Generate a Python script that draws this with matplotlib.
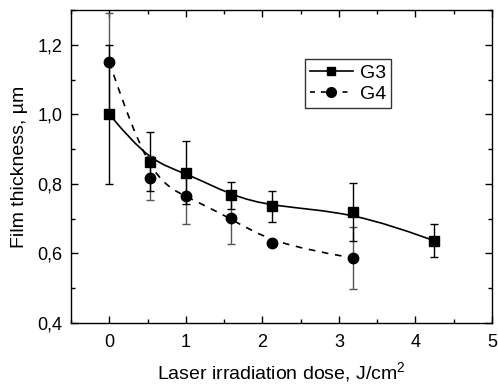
#!/usr/bin/env python3

import matplotlib

matplotlib.use('Agg')
import matplotlib.pyplot as plt
from matplotlib.path import Path
from matplotlib.patches import PathPatch
from matplotlib.ticker import FuncFormatter, MultipleLocator
from matplotlib.lines import Line2D


# dose, J/cm^2
G3_DOSE = [0.0, 0.53, 1.0, 1.59, 2.12, 3.18, 4.24]
G3_THICK = [1.0, 0.864, 0.832, 0.767, 0.735, 0.719, 0.637]
G3_ERR = [0.2, 0.085, 0.09, 0.038, 0.044, 0.083, 0.048]

G4_DOSE = [0.0, 0.53, 1.0, 1.59, 2.12, 3.18]
G4_THICK = [1.15, 0.816, 0.764, 0.701, 0.630, 0.587]
G4_ERR = [0.14, 0.063, 0.08, 0.075, 0.0, 0.09]

X_LABEL = 'Laser irradiation dose, J/cm$^2$'
Y_LABEL = 'Film thickness, \u00b5m'

plt.rcParams['font.family'] = ['Liberation Sans', 'DejaVu Sans']
plt.rcParams['mathtext.fontset'] = 'custom'
plt.rcParams['mathtext.rm'] = 'Liberation Sans'


def bspline_path(xs, ys):
    # cubic B-spline with the points as control points (ends clamped),
    # converted to bezier segments
    pts = list(zip(xs, ys))
    pts = [pts[0]] * 2 + pts + [pts[-1]] * 2
    verts = [pts[0]]
    codes = [Path.MOVETO]
    for i in range(len(pts) - 3):
        p0, p1, p2, p3 = pts[i:i + 4]
        c1 = ((2 * p1[0] + p2[0]) / 3, (2 * p1[1] + p2[1]) / 3)
        c2 = ((p1[0] + 2 * p2[0]) / 3, (p1[1] + 2 * p2[1]) / 3)
        end = ((p1[0] + 4 * p2[0] + p3[0]) / 6, (p1[1] + 4 * p2[1] + p3[1]) / 6)
        verts += [c1, c2, end]
        codes += [Path.CURVE4] * 3
    return Path(verts, codes)


fig = plt.figure(figsize=(4.98, 3.84), dpi=100)
ax = fig.add_axes([71 / 498, 61 / 384, 421 / 498, 313 / 384])

ax.add_patch(PathPatch(bspline_path(G3_DOSE, G3_THICK), fill=False,
                       edgecolor='black', linewidth=1.2))
ax.add_patch(PathPatch(bspline_path(G4_DOSE, G4_THICK), fill=False,
                       edgecolor='black', linewidth=1.2,
                       linestyle=(0, (4, 4))))

ax.errorbar(G4_DOSE, G4_THICK, yerr=G4_ERR, fmt='none', ecolor='#555555',
            elinewidth=1.0, capsize=3, capthick=1.0)
ax.errorbar(G3_DOSE, G3_THICK, yerr=G3_ERR, fmt='none', ecolor='black',
            elinewidth=1.0, capsize=3, capthick=1.0)
ax.plot(G4_DOSE, G4_THICK, 'o', color='black', markersize=7.5, zorder=4)
ax.plot(G3_DOSE, G3_THICK, 's', color='black', markersize=6.5, zorder=4)

ax.set_xlim(-0.5, 5)
ax.set_ylim(0.4, 1.3)
ax.xaxis.set_major_locator(MultipleLocator(1))
ax.xaxis.set_minor_locator(MultipleLocator(0.5))
ax.yaxis.set_major_locator(MultipleLocator(0.2))
ax.yaxis.set_minor_locator(MultipleLocator(0.1))
ax.xaxis.set_major_formatter(FuncFormatter(lambda v, p: f'{v:.0f}'))
ax.yaxis.set_major_formatter(
    FuncFormatter(lambda v, p: f'{v:.1f}'.replace('.', ',')))
ax.tick_params(which='both', direction='in', top=True, right=True,
               labelsize=13, width=1.0)
ax.tick_params(which='major', length=5, pad=6)
ax.tick_params(axis='x', which='major', pad=8)
ax.tick_params(which='minor', length=3)
for spine in ax.spines.values():
    spine.set_linewidth(1.0)

ax.set_xlabel(X_LABEL, fontsize=14, labelpad=7)
ax.set_ylabel(Y_LABEL, fontsize=14, labelpad=7)

handles = [
    Line2D([], [], color='black', linewidth=1.2, marker='s', markersize=6),
    Line2D([], [], color='black', linewidth=1.2, linestyle=(0, (3, 3.5)),
           marker='o', markersize=7),
]
leg = ax.legend(handles, ['G3', 'G4'], loc='upper left',
                bbox_to_anchor=(0.556, 0.843), fontsize=14, frameon=True,
                fancybox=False, edgecolor='black', handlelength=2.2,
                handletextpad=0.35, borderpad=0.25, labelspacing=0.2,
                borderaxespad=0)
leg.get_frame().set_linewidth(1.0)

fig.savefig('out.png', dpi=100)
